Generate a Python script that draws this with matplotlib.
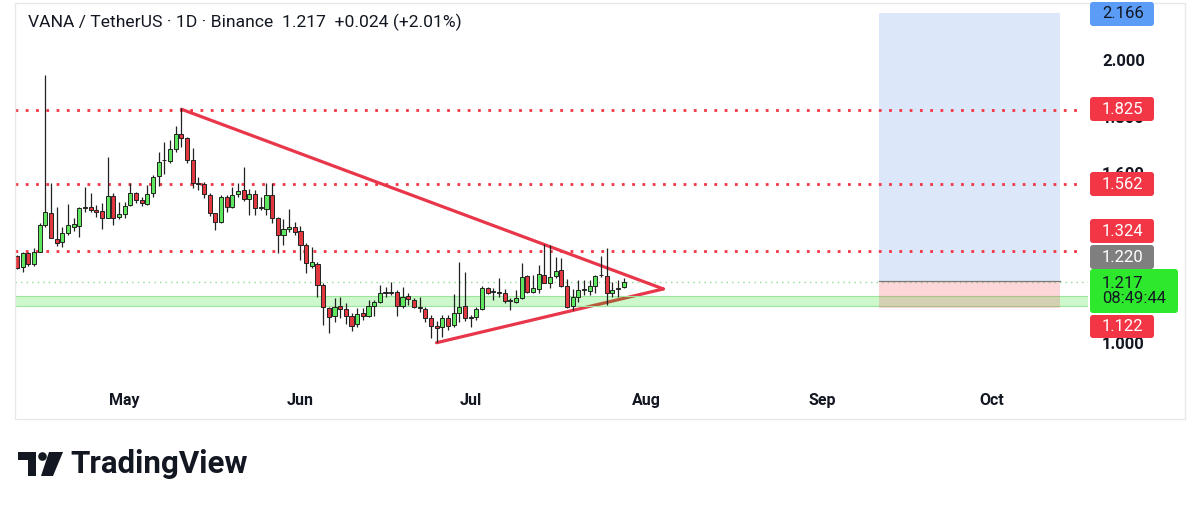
import numpy as np
import pandas as pd
import matplotlib
matplotlib.use('Agg')
import matplotlib.pyplot as plt
import matplotlib.dates as mdates
from matplotlib.patches import Rectangle, Polygon, Circle, FancyBboxPatch
from matplotlib.transforms import Affine2D
from matplotlib.ticker import FixedLocator, FormatStrFormatter

plt.rcParams['font.family'] = ['Roboto', 'DejaVu Sans']

# daily candles VANA/USDT, from 2025-04-12
opens = [1.306, 1.267, 1.319, 1.279, 1.323, 1.417, 1.460, 1.366, 1.358, 1.388,
         1.411, 1.413, 1.476, 1.480, 1.470, 1.467, 1.443, 1.519, 1.444, 1.456,
         1.488, 1.529, 1.505, 1.491, 1.529, 1.590, 1.645, 1.644, 1.684, 1.737,
         1.723, 1.647, 1.564, 1.562, 1.523, 1.458, 1.429, 1.517, 1.480, 1.525,
         1.541, 1.508, 1.527, 1.476, 1.473, 1.523, 1.441, 1.382, 1.403, 1.411,
         1.396, 1.346, 1.272, 1.279, 1.205, 1.123, 1.095, 1.131, 1.119, 1.095,
         1.067, 1.105, 1.097, 1.131, 1.146, 1.175, 1.178, 1.179, 1.131, 1.167,
         1.152, 1.126, 1.119, 1.087, 1.060, 1.056, 1.087, 1.064, 1.107, 1.131,
         1.091, 1.091, 1.120, 1.193, 1.179, 1.180, 1.176, 1.148, 1.146, 1.158,
         1.237, 1.181, 1.190, 1.240, 1.213, 1.237, 1.258, 1.201, 1.131, 1.161,
         1.187, 1.184, 1.201, 1.241, 1.237, 1.178, 1.191, 1.197]
highs = [1.311, 1.323, 1.323, 1.334, 1.425, 1.947, 1.564, 1.480, 1.409, 1.490,
         1.442, 1.482, 1.550, 1.531, 1.488, 1.494, 1.658, 1.529, 1.499, 1.499,
         1.566, 1.535, 1.515, 1.558, 1.594, 1.676, 1.711, 1.717, 1.767, 1.829,
         1.727, 1.688, 1.588, 1.570, 1.529, 1.460, 1.523, 1.523, 1.550, 1.564,
         1.621, 1.543, 1.541, 1.517, 1.564, 1.564, 1.446, 1.437, 1.472, 1.429,
         1.413, 1.352, 1.340, 1.287, 1.211, 1.128, 1.158, 1.164, 1.142, 1.105,
         1.123, 1.123, 1.152, 1.152, 1.205, 1.197, 1.216, 1.187, 1.197, 1.176,
         1.158, 1.164, 1.128, 1.099, 1.079, 1.099, 1.099, 1.173, 1.287, 1.252,
         1.099, 1.128, 1.201, 1.197, 1.193, 1.229, 1.190, 1.158, 1.187, 1.282,
         1.240, 1.240, 1.276, 1.350, 1.346, 1.305, 1.299, 1.225, 1.190, 1.223,
         1.223, 1.223, 1.240, 1.307, 1.335, 1.216, 1.223, 1.229]
lows = [1.260, 1.252, 1.272, 1.272, 1.320, 1.411, 1.370, 1.343, 1.340, 1.382,
        1.397, 1.376, 1.464, 1.464, 1.446, 1.402, 1.441, 1.417, 1.437, 1.441,
        1.484, 1.494, 1.484, 1.488, 1.517, 1.555, 1.597, 1.635, 1.676, 1.694,
        1.635, 1.547, 1.541, 1.511, 1.449, 1.399, 1.423, 1.464, 1.476, 1.517,
        1.503, 1.452, 1.452, 1.470, 1.452, 1.423, 1.317, 1.346, 1.393, 1.382,
        1.293, 1.246, 1.264, 1.164, 1.064, 1.034, 1.075, 1.087, 1.067, 1.043,
        1.058, 1.081, 1.093, 1.095, 1.140, 1.164, 1.170, 1.095, 1.123, 1.134,
        1.123, 1.111, 1.075, 1.017, 1.004, 1.020, 1.046, 1.058, 1.075, 1.079,
        1.058, 1.081, 1.117, 1.173, 1.152, 1.164, 1.142, 1.117, 1.140, 1.154,
        1.176, 1.176, 1.176, 1.211, 1.193, 1.229, 1.199, 1.125, 1.117, 1.146,
        1.170, 1.170, 1.176, 1.234, 1.134, 1.164, 1.164, 1.193]
closes = [1.265, 1.319, 1.279, 1.323, 1.417, 1.464, 1.370, 1.354, 1.388, 1.416,
          1.419, 1.476, 1.482, 1.470, 1.464, 1.443, 1.519, 1.443, 1.455, 1.484,
          1.531, 1.505, 1.494, 1.525, 1.588, 1.641, 1.647, 1.684, 1.737, 1.725,
          1.647, 1.564, 1.562, 1.527, 1.458, 1.429, 1.517, 1.482, 1.523, 1.538,
          1.508, 1.527, 1.476, 1.480, 1.523, 1.441, 1.382, 1.402, 1.411, 1.393,
          1.346, 1.282, 1.285, 1.205, 1.128, 1.093, 1.126, 1.120, 1.095, 1.060,
          1.102, 1.095, 1.131, 1.146, 1.176, 1.179, 1.181, 1.131, 1.164, 1.155,
          1.126, 1.123, 1.087, 1.060, 1.054, 1.087, 1.060, 1.105, 1.128, 1.087,
          1.087, 1.120, 1.193, 1.178, 1.181, 1.176, 1.150, 1.152, 1.158, 1.234,
          1.181, 1.193, 1.244, 1.213, 1.232, 1.256, 1.201, 1.128, 1.161, 1.187,
          1.189, 1.201, 1.237, 1.239, 1.178, 1.189, 1.194, 1.217]

start_date = '2025-04-12'
resistance = [1.825, 1.562, 1.324]
last_price = 1.217
support_band = (1.131, 1.166)
# triangle: upper from May 11 high, lower from Jun 25 low, apex Aug 4
tri_upper = (('2025-05-11', 1.826), ('2025-08-04', 1.191))
tri_lower = (('2025-06-25', 1.001), ('2025-08-04', 1.191))
# long position tool
pos_start, pos_end = '2025-09-11', '2025-10-13'
entry, target, stop = 1.220, 2.166, 1.122
# price scale ticks (1.2 / 1.4 sit fully under the labels, so left out)
price_ticks = [1.0, 1.6, 1.8, 2.0]

header = 'VANA / TetherUS · 1D · Binance  1.217  +0.024 (+2.01%)'
countdown = '08:49:44'

RED = '#f23645'
GREEN_BODY = '#5ee65e'
RED_BODY = '#e0383e'

fig = plt.figure(figsize=(12, 5.07), dpi=100)
W, H = 1200, 507
ax = fig.add_axes([15 / W, 1 - 385 / H, 1073 / W, 382 / H])
px = Affine2D().scale(1 / W, -1 / H).translate(0, 1) + fig.transFigure

dates = pd.date_range(start_date, periods=len(opens), freq='D')
x = mdates.date2num(dates)
o, h, l, c = map(np.array, (opens, highs, lows, closes))
up = c >= o

ymin, ymax = 0.8516, 2.2014
ax.set_ylim(ymin, ymax)
ax.set_xlim(x[0] - 0.353, x[0] + 188.9)

# wicks + bodies
ax.vlines(x, l, h, color='#222222', lw=0.9, zorder=4)
body_lo = np.minimum(o, c)
body_h = np.maximum(np.abs(c - o), 0.003)
ax.bar(x, body_h, bottom=body_lo, width=0.72,
       color=np.where(up, GREEN_BODY, RED_BODY), edgecolor='#222222',
       linewidth=0.7, zorder=5)

# resistance dotted lines
for lv in resistance:
    ax.axhline(lv, xmin=0, xmax=0.994, color=RED, lw=2.0,
               dashes=(1, 2.7), zorder=2)
ax.axhline(last_price, color='#8fd88f', lw=1.0, dashes=(1, 3), zorder=2)

# triangle
for (d1, p1), (d2, p2) in (tri_upper, tri_lower):
    ax.plot(mdates.date2num(pd.to_datetime([d1, d2])), [p1, p2],
            color='#e8364a', lw=2.3, solid_capstyle='round', zorder=3)

# support band
ax.axhspan(support_band[0], support_band[1], color='#00dd00', alpha=0.2,
           lw=0, zorder=3.5)
for lv in support_band:
    ax.axhline(lv, color='#9de59a', lw=0.8, zorder=3.5)

# long position box
xs, xe = mdates.date2num(pd.to_datetime([pos_start, pos_end]))
ax.add_patch(Rectangle((xs, entry), xe - xs, target - entry,
                       facecolor='#dce8f9', lw=0, zorder=1))
ax.add_patch(Rectangle((xs, stop), xe - xs, entry - stop,
                       facecolor=RED, alpha=0.2, lw=0, zorder=4.5))
ax.plot([xs, xe], [entry, entry], color='#7a7a7a', lw=0.9, zorder=4.6)

# axes styling
for s in ax.spines.values():
    s.set_visible(False)
ax.xaxis.set_major_locator(mdates.MonthLocator())
ax.xaxis.set_major_formatter(mdates.DateFormatter('%b'))
ax.tick_params(axis='x', length=0, pad=6, labelsize=11.5, labelcolor='#131722')
for t in ax.get_xticklabels():
    t.set_fontweight('bold')
ax.yaxis.tick_right()
ax.yaxis.set_major_locator(FixedLocator(price_ticks))
ax.yaxis.set_major_formatter(FormatStrFormatter('%.3f'))
ax.tick_params(axis='y', length=0, pad=10, labelsize=12, labelcolor='#131722')
for t in ax.get_yticklabels():
    t.set_fontweight('bold')

# chart frame
fig.patches.append(Rectangle((15, 3), 1170, 416, transform=px, fill=False,
                             edgecolor='#e6e8ee', lw=1))

# price scale labels: (text, top px, height px, width px, face, text colour)
labels = [
    (f'{target:.3f}', 2, 24, 64, '#5b9cf6', '#131722'),
    (f'{resistance[0]:.3f}', 97, 24, 64, RED, 'white'),
    (f'{resistance[1]:.3f}', 172, 24, 64, RED, 'white'),
    (f'{resistance[2]:.3f}', 219, 24, 64, RED, 'white'),
    (f'{entry:.3f}', 245, 24, 64, '#7f7f7f', 'white'),
    (f'{last_price:.3f}\n{countdown}', 269, 44, 88, '#2ee82e', '#131722'),
    (f'{stop:.3f}', 315, 23, 64, RED, 'white'),
]
for txt, top, hh, ww, fc, tc in labels:
    fig.patches.append(FancyBboxPatch((1090, top), ww, hh, transform=px,
                                      boxstyle='round,pad=0,rounding_size=3',
                                      facecolor=fc, edgecolor='none', zorder=5))
    fig.text(1102 / W, 1 - (top + hh / 2) / H, txt, ha='left', va='center',
             fontsize=12, color=tc, zorder=6, linespacing=1.05)

fig.text(28 / W, 1 - 22 / H, header, ha='left', va='center',
         fontsize=12.6, color='#131722')

# TradingView logo
fig.patches.append(Polygon([(18, 452), (36, 452), (36, 476), (28, 476),
                            (28, 460), (18, 460)], closed=True, transform=px,
                           facecolor='#131722', lw=0))
fig.patches.append(Circle((42.5, 456.5), 4.3, transform=px,
                          facecolor='#131722', lw=0))
fig.patches.append(Polygon([(49, 452), (63, 452), (53, 476), (41, 476)],
                           closed=True, transform=px, facecolor='#131722', lw=0))
fig.text(70 / W, 1 - 464 / H, 'TradingView', ha='left', va='center',
         fontsize=22.5, fontweight='bold', color='#131722')

fig.savefig('out.png', dpi=100, facecolor='white')
